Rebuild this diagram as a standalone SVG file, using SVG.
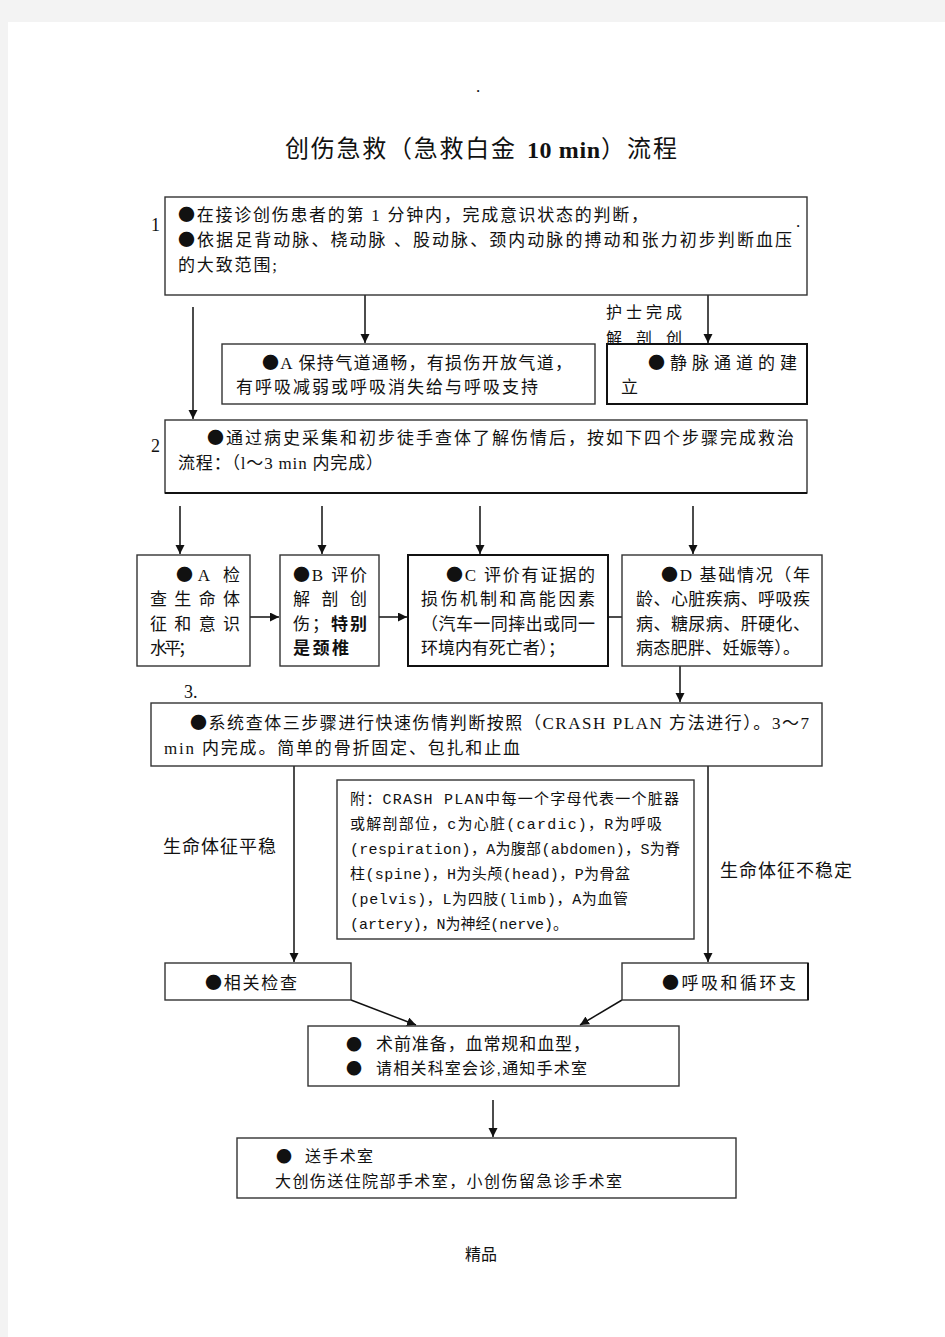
<svg xmlns="http://www.w3.org/2000/svg" width="945" height="1337" viewBox="0 0 945 1337">
<style>
.t{font-family:"Liberation Serif","Noto Sans CJK SC",serif;font-size:17px;fill:#111}
.s{font-family:"Liberation Sans","Noto Sans CJK SC",sans-serif;font-size:16px;fill:#111}
.m{font-family:"Liberation Mono","Noto Sans CJK SC",monospace;font-size:15px;fill:#111}
.k{font-family:"Noto Sans CJK SC",sans-serif}
.ttl{font-size:24px}
.n18{font-size:18px}
.b{fill:#fff;stroke:#333;stroke-width:1.4}
.bb{fill:#fff;stroke:#111;stroke-width:2}
.c{stroke:#111;stroke-width:1.5;fill:none}
.a{marker-end:url(#ah)}
</style>
<defs>
<marker id="ah" markerUnits="userSpaceOnUse" markerWidth="10" markerHeight="10" refX="9" refY="4.5" orient="auto">
<path d="M0,0 L9,4.5 L0,9 z" fill="#111"/>
</marker>
</defs>
<rect x="0" y="0" width="945" height="1337" fill="#f3f3f3"/>
<rect x="8" y="22" width="937" height="1315" fill="#fff"/>

<text x="476" y="92" class="t">.</text>
<g id="title">
<text x="285" y="157" class="t ttl" textLength="230">创伤急救（急救白金</text>
<text x="527" y="158" class="t ttl" font-weight="bold" textLength="73">10 min</text>
<text x="601" y="157" class="t ttl" textLength="76">）流程</text>
</g>

<g id="connectors">
<line class="c a" x1="365" y1="295" x2="365" y2="343"/>
<line class="c a" x1="708" y1="295" x2="708" y2="343"/>
<line class="c a" x1="193" y1="307" x2="193" y2="419"/>
<line class="c a" x1="180" y1="506" x2="180" y2="554"/>
<line class="c a" x1="322" y1="506" x2="322" y2="554"/>
<line class="c a" x1="480" y1="506" x2="480" y2="554"/>
<line class="c a" x1="693" y1="506" x2="693" y2="554"/>
<line class="c a" x1="250" y1="617" x2="279" y2="617"/>
<line class="c a" x1="379" y1="617" x2="407" y2="617"/>
<line class="c a" x1="608" y1="617" x2="637" y2="617"/>
<line class="c a" x1="680" y1="666" x2="680" y2="702"/>
<line class="c a" x1="294" y1="766" x2="294" y2="962"/>
<line class="c a" x1="708" y1="766" x2="708" y2="962"/>
<line class="c a" x1="351" y1="1000" x2="416" y2="1025"/>
<line class="c a" x1="622" y1="1000" x2="580" y2="1025"/>
<line class="c a" x1="493" y1="1100" x2="493" y2="1137"/>
</g>

<g id="n1">
<rect class="b" x="165" y="197" width="642" height="98"/>
<text x="151" y="231" class="t n18">1</text>
<text x="178" y="221" class="t" textLength="470"><tspan class="k">●</tspan>在接诊创伤患者的第 1 分钟内，完成意识状态的判断，</text>
<text x="178" y="246" class="t" textLength="614"><tspan class="k">●</tspan>依据足背动脉、桡动脉 、股动脉、颈内动脉的搏动和张力初步判断血压</text>
<text x="178" y="271" class="t" textLength="99">的大致范围;</text>
<text x="796" y="227" class="t">.</text>
</g>

<g id="nurse">
<text x="606" y="318" class="s" textLength="76">护士完成</text>
<text x="606" y="344" class="s" textLength="76">解 剖 创</text>
</g>

<g id="nA">
<rect class="b" x="222" y="344" width="373" height="60"/>
<text x="262" y="369" class="t" textLength="310"><tspan class="k">●</tspan>A 保持气道通畅，有损伤开放气道，</text>
<text x="236" y="393" class="t" textLength="302">有呼吸减弱或呼吸消失给与呼吸支持</text>
</g>

<g id="nVein">
<rect class="bb" x="607" y="344" width="200" height="60"/>
<text x="648" y="369" class="t" textLength="149"><tspan class="k">●</tspan>静脉通道的建</text>
<text x="621" y="393" class="t">立</text>
</g>

<g id="n2">
<rect class="b" x="165" y="420" width="642" height="73"/>
<line x1="165" y1="493" x2="807" y2="493" stroke="#111" stroke-width="2.2"/>
<text x="151" y="452" class="t n18">2</text>
<text x="207" y="444" class="t" textLength="587"><tspan class="k">●</tspan>通过病史采集和初步徒手查体了解伤情后，按如下四个步骤完成救治</text>
<text x="178" y="469" class="t" textLength="205">流程：（l～3 min 内完成）</text>
</g>

<g id="nCheckA">
<rect class="b" x="137" y="555" width="113" height="111"/>
<text x="176" y="581" class="t" textLength="64"><tspan class="k">●</tspan>A 检</text>
<text x="150" y="605" class="t" textLength="90">查生命体</text>
<text x="150" y="630" class="t" textLength="90">征和意识</text>
<text x="150" y="654" class="t" textLength="45">水平；</text>
</g>

<g id="nCheckB">
<rect class="b" x="280" y="555" width="99" height="111"/>
<text x="293" y="581" class="t" textLength="74"><tspan class="k">●</tspan>B 评价</text>
<text x="293" y="605" class="t" textLength="74">解 剖 创</text>
<text x="293" y="630" class="t" textLength="74">伤；<tspan font-weight="bold">特别</tspan></text>
<text x="293" y="654" class="t" font-weight="bold" textLength="56">是颈椎</text>
</g>

<g id="nCheckC">
<rect class="bb" x="408" y="555" width="200" height="111"/>
<text x="446" y="581" class="t" textLength="149"><tspan class="k">●</tspan>C 评价有证据的</text>
<text x="421" y="605" class="t" textLength="174">损伤机制和高能因素</text>
<text x="421" y="630" class="t" textLength="174">（汽车一同摔出或同一</text>
<text x="421" y="654" class="t" textLength="144">环境内有死亡者）；</text>
</g>

<g id="nCheckD">
<rect class="b" x="622" y="555" width="200" height="111"/>
<text x="661" y="581" class="t" textLength="149"><tspan class="k">●</tspan>D 基础情况（年</text>
<text x="636" y="605" class="t" textLength="174">龄、心脏疾病、呼吸疾</text>
<text x="636" y="630" class="t" textLength="174">病、糖尿病、肝硬化、</text>
<text x="636" y="654" class="t" textLength="164">病态肥胖、妊娠等）。</text>
</g>

<g id="n3">
<text x="184" y="698" class="t n18">3.</text>
<rect class="b" x="151" y="703" width="671" height="63"/>
<text x="190" y="729" class="t" textLength="619"><tspan class="k">●</tspan>系统查体三步骤进行快速伤情判断按照（CRASH PLAN 方法进行）。3～7</text>
<text x="164" y="754" class="t" textLength="356">min 内完成。简单的骨折固定、包扎和止血</text>
</g>

<g id="nNote">
<rect class="b" x="337" y="780" width="357" height="159"/>
<text x="350" y="804" class="m" textLength="329">附：CRASH PLAN中每一个字母代表一个脏器</text>
<text x="350" y="829" class="m" textLength="312">或解剖部位，c为心脏(cardic)，R为呼吸</text>
<text x="350" y="854" class="m" textLength="330">(respiration)，A为腹部(abdomen)，S为脊</text>
<text x="350" y="879" class="m" textLength="280">柱(spine)，H为头颅(head)，P为骨盆</text>
<text x="350" y="904" class="m" textLength="278">(pelvis)，L为四肢(limb)，A为血管</text>
<text x="350" y="929" class="m" textLength="218">(artery)，N为神经(nerve)。</text>
</g>

<g id="lblStable">
<text x="163" y="853" class="t n18" textLength="113">生命体征平稳</text>
</g>
<g id="lblUnstable">
<text x="720" y="877" class="t n18" textLength="132">生命体征不稳定</text>
</g>

<g id="nExam">
<rect class="b" x="165" y="963" width="186" height="37"/>
<text x="205" y="989" class="t" textLength="92"><tspan class="k">●</tspan>相关检查</text>
</g>

<g id="nSupport">
<rect class="b" x="622" y="963" width="186" height="37"/>
<line x1="808" y1="963" x2="808" y2="1000" stroke="#111" stroke-width="2"/>
<text x="662" y="989" class="t" textLength="134"><tspan class="k">●</tspan>呼吸和循环支</text>
</g>

<g id="nPrep">
<rect class="b" x="308" y="1026" width="371" height="60"/>
<text x="346" y="1050" class="s k">●</text>
<text x="376" y="1050" class="t" textLength="214">术前准备，血常规和血型，</text>
<text x="346" y="1074" class="s k">●</text>
<text x="376" y="1074" class="s" textLength="211">请相关科室会诊,通知手术室</text>
</g>

<g id="nOR">
<rect class="b" x="237" y="1138" width="499" height="60"/>
<text x="276" y="1162" class="s k">●</text>
<text x="305" y="1162" class="s" textLength="68">送手术室</text>
<text x="275" y="1187" class="s" textLength="347">大创伤送住院部手术室，小创伤留急诊手术室</text>
</g>

<text x="465" y="1260" class="s" textLength="32">精品</text>
</svg>
